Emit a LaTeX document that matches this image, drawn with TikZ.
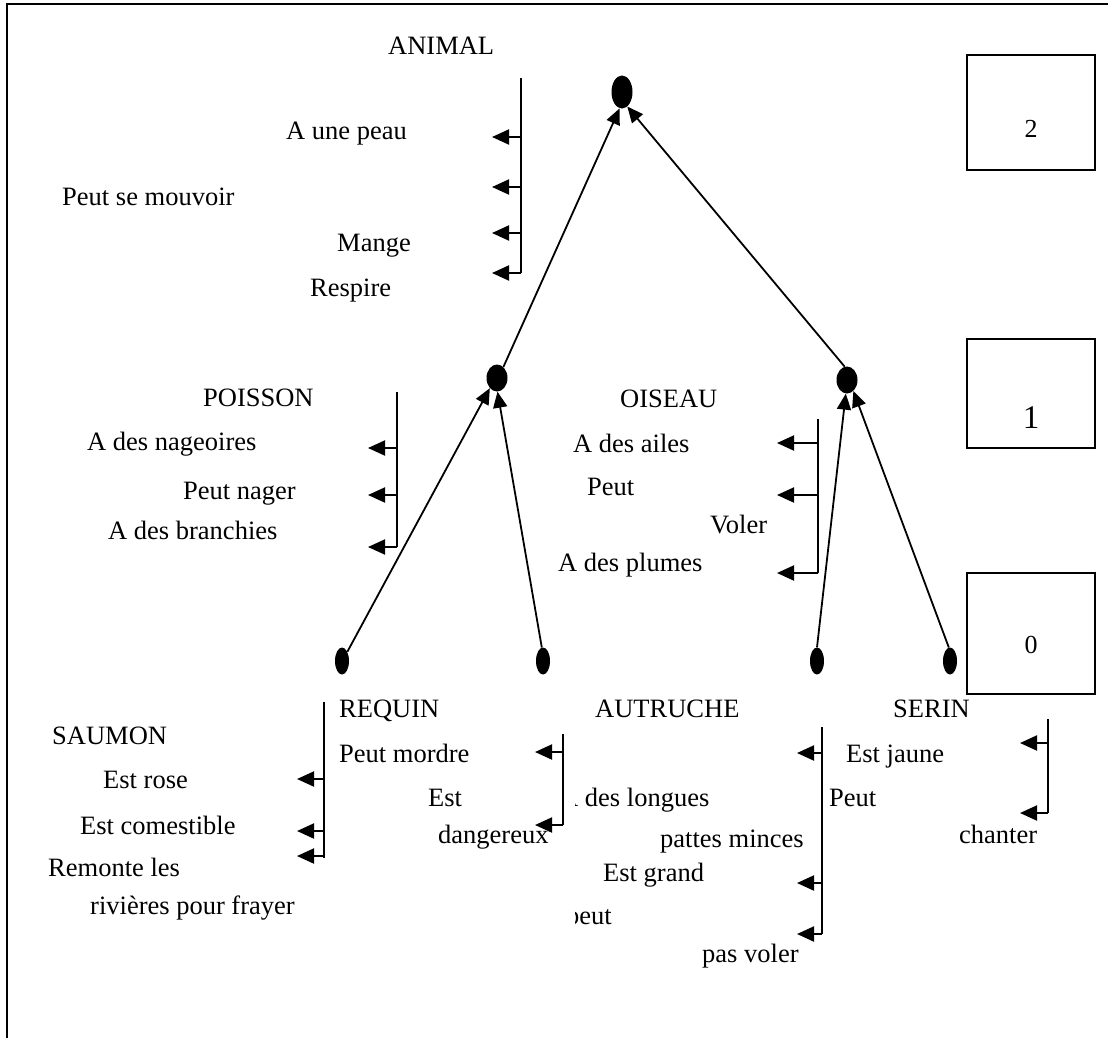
\documentclass[tikz,border=0pt]{standalone}
\usepackage{fontspec}
\setmainfont{Liberation Serif}
\usetikzlibrary{arrows.meta,shapes.geometric}

\tikzset{
  lbl/.style={anchor=base west, inner sep=0pt, font=\fontsize{26.5}{30}\selectfont},
  dot/.style={ellipse, fill=black, draw=none, inner sep=0pt},
  bigdot/.style={dot, minimum width=21pt, minimum height=33pt},
  middot/.style={dot, minimum width=21pt, minimum height=27pt},
  leafdot/.style={dot, minimum width=14pt, minimum height=27pt},
  link/.style={line width=1.8pt, -{Triangle[length=16pt,width=14pt]}},
  barline/.style={line width=2pt},
  attrarrow/.style={line width=2pt, -{Triangle[length=17pt,width=15pt]}},
  levelbox/.style={draw, line width=2pt, minimum width=128pt, minimum height=115pt, inner sep=0pt},
  frameline/.style={line width=2.8pt}
}

% vertical bar with left-pointing arrows: name, bar x, tip x, top y, bottom y, tick ys
\newcommand{\attrbar}[6]{%
  \coordinate (#1-top) at (#2,#4);
  \coordinate (#1-bot) at (#2,#5);
  \draw[barline] (#1-top) -- (#1-bot);
  \foreach \ty [count=\k] in {#6} {
    \coordinate (#1-s\k) at (#2,\ty);
    \coordinate (#1-t\k) at (#3,\ty);
    \draw[attrarrow] (#1-s\k) -- (#1-t\k);
  }%
}

\begin{document}
\begin{tikzpicture}[x=1pt,y=-1pt]
\useasboundingbox (0,0) rectangle (1108,1037);

% outer frame (top and left edges)
\coordinate (fr-tl) at (7,4);
\coordinate (fr-tr) at (1110,4);
\coordinate (fr-bl) at (7,1040);
\draw[frameline] (fr-tr) -- (fr-tl) -- (fr-bl);

% level boxes
\node[levelbox] (lv2) at (1031,112.5) {};
\node[levelbox, minimum height=109pt] (lv1) at (1031,393) {};
\node[levelbox, minimum height=121pt] (lv0) at (1031,633.5) {};
\node[lbl, anchor=base, font=\fontsize{26}{30}\selectfont] (n2) at (1031,137) {2};
\node[lbl, anchor=base, font=\fontsize{33}{38}\selectfont] (n1) at (1031,428) {1};
\node[lbl, anchor=base, font=\fontsize{26}{30}\selectfont] (n0) at (1031,653) {0};

% tree nodes
\node[bigdot] (animal) at (622,92) {};
\node[middot] (poisson) at (497,378) {};
\node[middot] (oiseau) at (847,380) {};
\node[leafdot] (saumon) at (342,661) {};
\node[leafdot] (requin) at (543,661) {};
\node[leafdot] (autruche) at (817,661) {};
\node[leafdot] (serin) at (950,661) {};

% tree edges
\draw[link] (poisson.60) -- (animal.262);
\draw[link] (oiseau.100) -- (animal.290);
\draw[link] (saumon.60) -- (poisson.235);
\draw[link] (requin.95) -- (poisson.272);
\draw[link] (autruche.north) -- (oiseau.265);
\draw[link] (serin.95) -- (oiseau.300);

% attribute bars
\attrbar{ba}{521}{492}{78}{273}{137,187,233,273}
\attrbar{bp}{397}{368}{392}{547}{448,495,547}
\attrbar{bo}{818}{777}{419}{573}{443,495,573}
\attrbar{bs}{324}{297}{702}{858}{779,831,856}
\attrbar{br}{563}{535}{734}{825}{752,825}
\attrbar{bt}{822}{797}{727}{934}{753,883,934}
\attrbar{bn}{1048}{1020}{719}{813}{743,813}

% labels: ANIMAL
\node[lbl] (l-animal) at (388,54) {ANIMAL};
\node[lbl] (l-peau) at (286,139) {A une peau};
\node[lbl] (l-mouv) at (62,205) {Peut se mouvoir};
\node[lbl] (l-mange) at (337,251) {Mange};
\node[lbl] (l-resp) at (310,296) {Respire};

% labels: POISSON
\node[lbl] (l-poisson) at (203,406) {POISSON};
\node[lbl] (l-nag) at (87,450) {A des nageoires};
\node[lbl] (l-nager) at (183,499) {Peut nager};
\node[lbl] (l-branch) at (108,539) {A des branchies};

% labels: OISEAU
\node[lbl] (l-oiseau) at (620,407) {OISEAU};
\node[lbl] (l-ailes) at (573,452) {A des ailes};
\node[lbl] (l-peut1) at (587,495) {Peut};
\node[lbl] (l-voler) at (710,533) {Voler};
\node[lbl] (l-plumes) at (558,571) {A des plumes};

% labels: SAUMON
\node[lbl] (l-saumon) at (52,744) {SAUMON};
\node[lbl] (l-rose) at (103,788) {Est rose};
\node[lbl] (l-comest) at (80,834) {Est comestible};
\node[lbl] (l-remonte) at (48,876) {Remonte les};
\node[lbl] (l-rivieres) at (90,914) {rivières pour frayer};

% labels: REQUIN
\node[lbl] (l-requin) at (339,717) {REQUIN};
\node[lbl] (l-mordre) at (339,762) {Peut mordre};
\node[lbl] (l-est) at (428,806) {Est};
\node[lbl] (l-dang) at (438,843) {dangereux};

% labels: AUTRUCHE
\node[lbl] (l-autruche) at (595,717) {AUTRUCHE};
\begin{scope}
  \clip (575,775) rectangle (760,815);
  \node[lbl] (l-longues) at (559,806) {A des longues};
\end{scope}
\node[lbl] (l-pattes) at (660,847) {pattes minces};
\node[lbl] (l-grand) at (603,881) {Est grand};
\begin{scope}
  \clip (575,895) rectangle (640,935);
  \node[lbl] (l-peut2) at (566,924) {peut};
\end{scope}
\node[lbl] (l-pasvoler) at (702,962) {pas voler};

% labels: SERIN
\node[lbl] (l-serin) at (893,717) {SERIN};
\node[lbl] (l-jaune) at (846,762) {Est jaune};
\node[lbl] (l-peut3) at (829,806) {Peut};
\node[lbl] (l-chanter) at (959,843) {chanter};
\end{tikzpicture}
\end{document}
